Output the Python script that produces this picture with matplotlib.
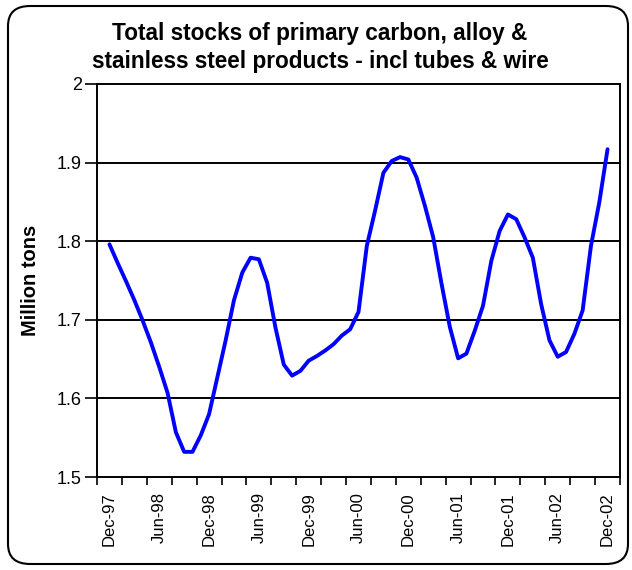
import matplotlib
matplotlib.use("Agg")
import matplotlib.pyplot as plt
from matplotlib.patches import FancyBboxPatch
import numpy as np

plt.rcParams['font.family'] = ['Liberation Sans', 'DejaVu Sans']

# Monthly stocks, Dec-97 .. Dec-02 (million tons)
stocks = [1.796, 1.772, 1.749, 1.725, 1.699, 1.671, 1.640, 1.607, 1.557, 1.532,
          1.532, 1.553, 1.580, 1.627, 1.674, 1.725, 1.760, 1.779, 1.777, 1.747,
          1.690, 1.643, 1.629, 1.635, 1.648, 1.654, 1.661, 1.669, 1.680, 1.688,
          1.710, 1.794, 1.839, 1.887, 1.902, 1.907, 1.904, 1.881, 1.845, 1.805,
          1.746, 1.691, 1.651, 1.657, 1.686, 1.718, 1.775, 1.813, 1.834, 1.828,
          1.805, 1.779, 1.720, 1.674, 1.653, 1.659, 1.682, 1.712, 1.794, 1.849,
          1.917]
tick_labels = ['Dec-97', 'Jun-98', 'Dec-98', 'Jun-99', 'Dec-99', 'Jun-00',
               'Dec-00', 'Jun-01', 'Dec-01', 'Jun-02', 'Dec-02']
y_ticks = [1.5, 1.6, 1.7, 1.8, 1.9, 2.0]
y_tick_labels = ['1.5', '1.6', '1.7', '1.8', '1.9', '2']
title_lines = ['Total stocks of primary carbon, alloy &',
               'stainless steel products - incl tubes & wire']

W, H = 632, 570
fig = plt.figure(figsize=(W / 100, H / 100), dpi=100)

# rounded outer frame
frame = FancyBboxPatch((8 / W, 6 / H), 620 / W, 558 / H,
                       boxstyle="round,pad=0,rounding_size=0.035",
                       transform=fig.transFigure, facecolor='none',
                       edgecolor='black', linewidth=1.5, zorder=-1)
fig.patches.append(frame)

ax = fig.add_axes([97 / W, 1 - 477 / H, (620 - 97) / W, (477 - 84) / H])
x = np.arange(len(stocks))
ax.plot(x, stocks, color='#0000FF', linewidth=2.8, solid_joinstyle='round',
        solid_capstyle='round', zorder=3)

ax.set_xlim(-1.5, 61.5)
ax.set_ylim(1.5, 2.0)

ax.set_yticks(y_ticks)
ax.set_yticklabels(y_tick_labels, fontsize=13)
for yv in y_ticks[1:-1]:
    ax.axhline(yv, color='black', linewidth=1.4, zorder=1)

ax.set_xticks(np.arange(-1.5, 62, 3))
ax.set_xticklabels([])
ax.set_xticks(np.arange(0, 61, 6), minor=True)
ax.set_xticklabels(tick_labels, minor=True, rotation=90, fontsize=12)
ax.tick_params(axis='x', which='minor', length=0, pad=11)
ax.tick_params(axis='x', which='major', length=6, width=1.2, direction='out')
ax.tick_params(axis='y', length=9, width=1.2, direction='out', pad=2)

for s in ax.spines.values():
    s.set_linewidth(1.4)

ax.set_ylabel('Million tons', fontsize=14.5, fontweight='bold', labelpad=12)

fig.text(320 / W, 1 - 40 / H, title_lines[0], ha='center', va='baseline',
         fontsize=16.3, fontweight='bold')
fig.text(320 / W, 1 - 68 / H, title_lines[1], ha='center', va='baseline',
         fontsize=16.3, fontweight='bold')

fig.savefig('out.png', dpi=100)
